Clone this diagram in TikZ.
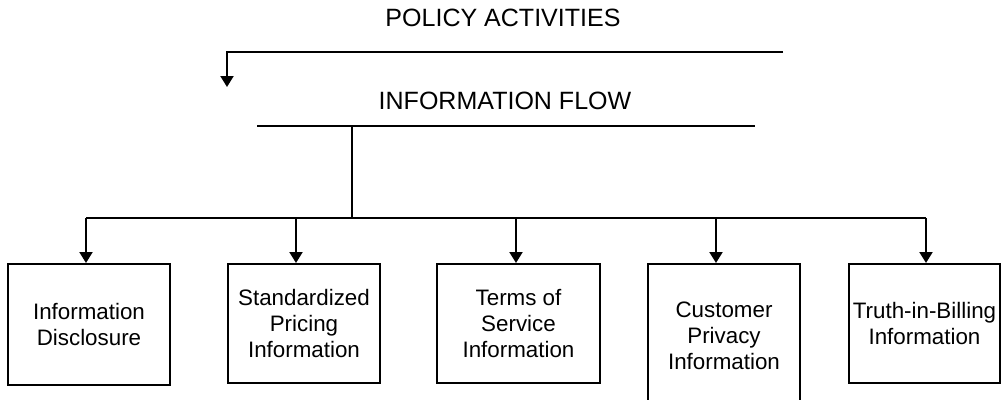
\documentclass[tikz,border=0pt]{standalone}
\usepackage{fontspec}
\setmainfont{Liberation Sans}
\usetikzlibrary{arrows.meta}

\tikzset{
  link/.style={line width=1.6pt},
  arr/.style={link,-{Triangle[width=9.2pt,length=7.8pt]}},
  headline/.style={font=\fontsize{17.8}{21}\selectfont, inner sep=0pt},
  infobox/.style={draw, rectangle, line width=1.6pt, align=center, anchor=north, inner sep=0pt, font=\fontsize{15.9}{18.5}\selectfont}
}

\begin{document}
\begin{tikzpicture}[x=0.025cm,y=-0.025cm]
  \useasboundingbox (0,0) rectangle (1002,400);

  % titles
  \node[headline] (policy) at (503,18) {POLICY ACTIVITIES};
  \node[headline] (flow) at (505,101) {INFORMATION FLOW};

  % top bracket
  \coordinate (pol-r) at (783,52);
  \coordinate (pol-l) at (227,52);
  \coordinate (pol-end) at (227,87);
  \draw[arr] (pol-r) -- (pol-l) -- (pol-end);

  % underline and trunk
  \coordinate (flow-l) at (257,126);
  \coordinate (flow-r) at (755,126);
  \coordinate (trunk) at (352,126);
  \coordinate (bus) at (352,218);
  \draw[link] (flow-l) -- (flow-r);
  \draw[link] (trunk) -- (bus);

  % boxes
  \node[infobox,minimum width=4.05cm,minimum height=3.025cm] (b1) at (89,263) {Information\\Disclosure};
  \node[infobox,minimum width=3.8cm,minimum height=2.975cm] (b2) at (304,263) {Standardized\\Pricing\\Information};
  \node[infobox,minimum width=4.075cm,minimum height=2.975cm] (b3) at (518.5,263) {Terms of\\Service\\Information};
  \node[infobox,minimum width=3.8cm,minimum height=3.6cm] (b4) at (724,263) {Customer\\Privacy\\Information};
  \node[infobox,minimum width=3.775cm,minimum height=2.975cm] (b5) at (924.5,263) {Truth-in-Billing\\Information};

  % bus and drops
  \coordinate (tap1) at (86,218);
  \coordinate (tap2) at (296,218);
  \coordinate (tap3) at (516,218);
  \coordinate (tap4) at (716,218);
  \coordinate (tap5) at (926,218);
  \draw[link] (tap1) -- (tap5);

  \draw[arr] (tap1) to (tap1 |- b1.north);
  \draw[arr] (tap2) to (tap2 |- b2.north);
  \draw[arr] (tap3) to (tap3 |- b3.north);
  \draw[arr] (tap4) to (tap4 |- b4.north);
  \draw[arr] (tap5) to (tap5 |- b5.north);
\end{tikzpicture}
\end{document}
